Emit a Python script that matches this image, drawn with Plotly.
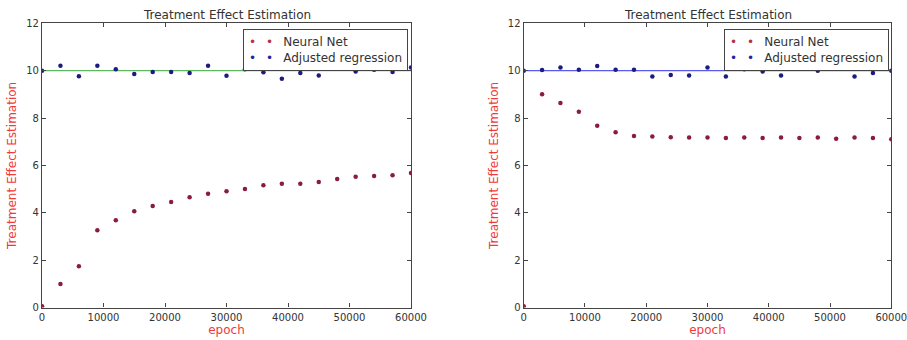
import plotly.graph_objects as go

# ---------------- data ----------------
epochs = [0, 3000, 6000, 9000, 12000, 15000, 18000, 21000, 24000, 27000, 30000,
          33000, 36000, 39000, 42000, 45000, 48000, 51000, 54000, 57000, 60000]

left_neural_net = [0.05, 0.99, 1.74, 3.26, 3.68, 4.06, 4.29, 4.45, 4.65, 4.80, 4.91,
                   5.00, 5.16, 5.23, 5.23, 5.30, 5.43, 5.52, 5.55, 5.58, 5.68]
left_adjusted = [10.0, 10.21, 9.76, 10.21, 10.06, 9.86, 9.94, 9.94, 9.90, 10.21, 9.79,
                 10.06, 9.93, 9.66, 9.90, 9.80, 10.25, 9.97, 10.04, 9.94, 10.13]

right_neural_net = [0.05, 9.00, 8.64, 8.27, 7.67, 7.40, 7.24, 7.22, 7.19, 7.18, 7.18,
                    7.16, 7.18, 7.16, 7.18, 7.16, 7.18, 7.13, 7.18, 7.16, 7.10]
right_adjusted = [10.0, 10.03, 10.13, 10.04, 10.20, 10.04, 10.04, 9.75, 9.82, 9.80, 10.13,
                  9.75, 10.06, 9.97, 9.80, 10.13, 10.00, 10.10, 9.75, 9.90, 10.00]

true_effect = 10
x_range = [0, 60000]
x_ticks = [0, 10000, 20000, 30000, 40000, 50000, 60000]
x_tick_labels = ["0", "10000", "20000", "30000", "40000", "50000", "60000"]
y_ticks = [0, 2, 4, 6, 8, 10, 12]
y_tick_labels = ["0", "2", "4", "6", "8", "10", "12"]

series_names = ["Neural Net", "Adjusted regression"]
title_text = "Treatment Effect Estimation"
x_label = "epoch"
y_label = "Treatment Effect Estimation"

# ---------------- style ----------------
NN_COLOR = "#8a1c3c"
ADJ_COLOR = "#1c1c80"
NN_LEG = "#b83040"
ADJ_LEG = "#2424a0"
LINE_LEFT = "#5fb85f"
LINE_RIGHT = "#5a5af0"
FONT = "DejaVu Sans"
AXIS_COLOR = "#444444"
TEXT_COLOR = "#333333"
LABEL_COLOR = "#f03a3a"

W, H = 907, 340
dom_left = [42 / W, 411 / W]
dom_right = [523.7 / W, 891.3 / W]
dom_y = [1 - 307.5 / H, 1 - 23.3 / H]

fig = go.Figure()

panels = [
    ("x", "y", left_neural_net, left_adjusted, LINE_LEFT),
    ("x2", "y2", right_neural_net, right_adjusted, LINE_RIGHT),
]

for xa, ya, nn, adj, lc in panels:
    fig.add_trace(go.Scatter(
        x=x_range, y=[true_effect, true_effect], mode="lines",
        line=dict(color=lc, width=1.3), xaxis=xa, yaxis=ya,
        showlegend=False, hoverinfo="skip"))
    fig.add_trace(go.Scatter(
        x=epochs, y=nn, mode="markers", name=series_names[0],
        marker=dict(color=NN_COLOR, size=4.5), xaxis=xa, yaxis=ya, showlegend=False))
    fig.add_trace(go.Scatter(
        x=epochs, y=adj, mode="markers", name=series_names[1],
        marker=dict(color=ADJ_COLOR, size=4.5), xaxis=xa, yaxis=ya, showlegend=False))

def xaxis(domain, anchor):
    return dict(domain=domain, anchor=anchor, range=x_range, automargin=False,
                tickvals=x_ticks, ticktext=x_tick_labels, ticklabeloverflow="allow",
                ticks="inside", ticklen=4, tickcolor=AXIS_COLOR, showline=True,
                linecolor=AXIS_COLOR, linewidth=1.2, mirror="ticks", showgrid=False,
                zeroline=False, tickfont=dict(family=FONT, size=10, color=TEXT_COLOR),
                title=dict(text=x_label, font=dict(family=FONT, size=12, color=LABEL_COLOR),
                           standoff=4))

def yaxis(anchor):
    return dict(domain=dom_y, anchor=anchor, range=[0, 12], automargin=False,
                tickvals=y_ticks, ticktext=y_tick_labels, ticklabeloverflow="allow",
                ticks="inside", ticklen=4, tickcolor=AXIS_COLOR, showline=True,
                linecolor=AXIS_COLOR, linewidth=1.2, mirror="ticks", showgrid=False,
                zeroline=False, tickfont=dict(family=FONT, size=10, color=TEXT_COLOR),
                title=dict(text=y_label, font=dict(family=FONT, size=12, color=LABEL_COLOR),
                           standoff=6))

# matplotlib-style legend (two sample points per entry)
dots_gap = "&nbsp;&nbsp;&#8201;"
legend_text = (
    f"<span style='color:{NN_LEG}'>•{dots_gap}•</span>{dots_gap}{series_names[0]}<br>"
    f"<span style='color:{ADJ_LEG}'>•{dots_gap}•</span>{dots_gap}{series_names[1]}"
)

def legend_box(x_px):
    return dict(text=legend_text, xref="paper", yref="paper",
                x=x_px / W, y=1 - 29 / H, xanchor="left", yanchor="top",
                align="left", showarrow=False, bgcolor="white",
                bordercolor=AXIS_COLOR, borderwidth=1, borderpad=5,
                font=dict(family=FONT, size=12, color=TEXT_COLOR))

def title_ann(domain):
    return dict(text=title_text, xref="paper", yref="paper",
                x=(domain[0] + domain[1]) / 2, y=1 - 15.5 / H,
                xanchor="center", yanchor="middle", showarrow=False,
                font=dict(family=FONT, size=12, color=TEXT_COLOR))

fig.update_layout(
    width=W, height=H,
    margin=dict(l=0, r=0, t=0, b=0, autoexpand=False),
    paper_bgcolor="white", plot_bgcolor="white",
    xaxis=xaxis(dom_left, "y"),
    yaxis=yaxis("x"),
    xaxis2=xaxis(dom_right, "y2"),
    yaxis2=yaxis("x2"),
    showlegend=False,
    annotations=[title_ann(dom_left), title_ann(dom_right),
                 legend_box(243), legend_box(724)],
)

fig.write_html("out.html")
